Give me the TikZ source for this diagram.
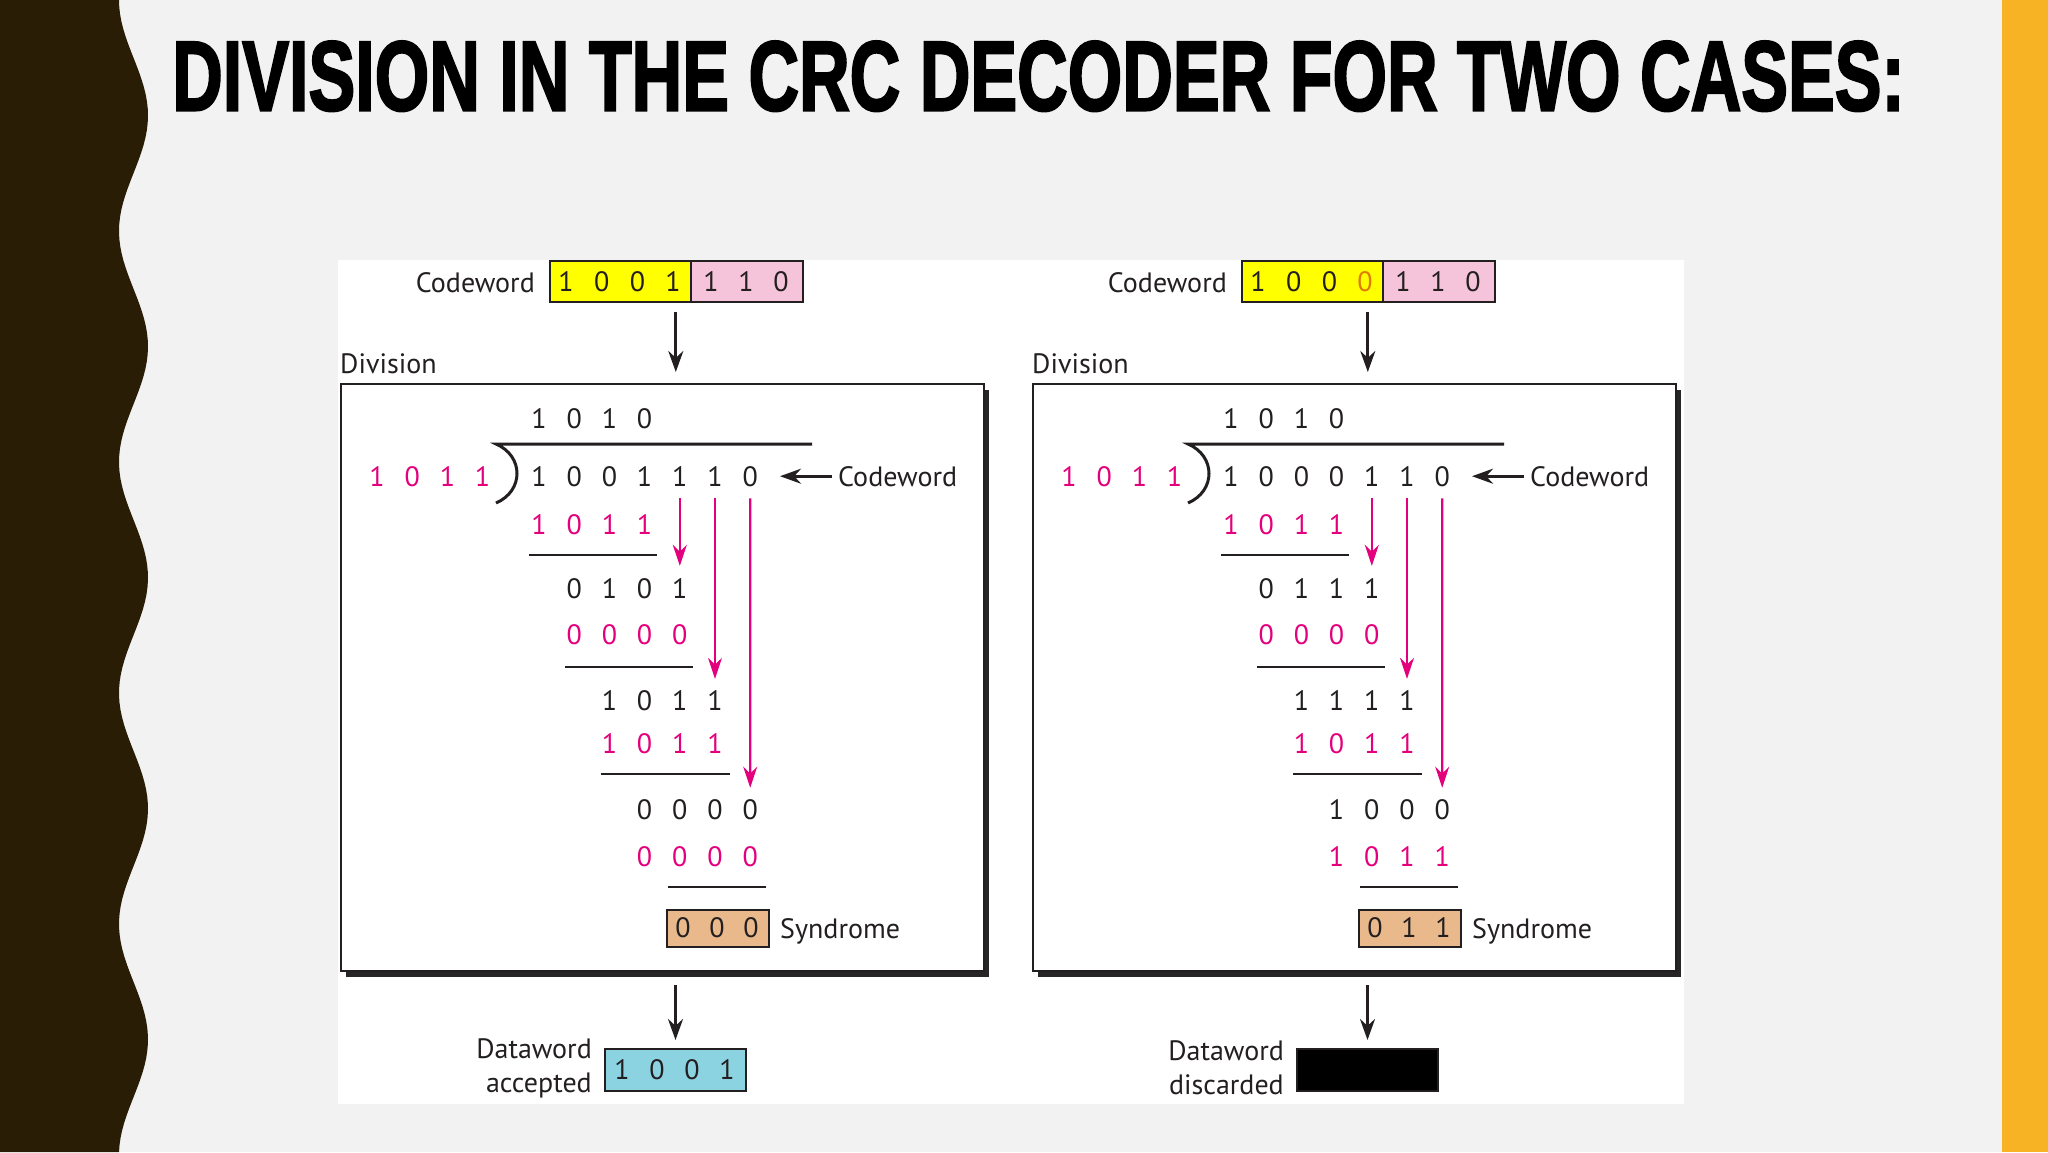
\documentclass[tikz,border=0pt]{standalone}
\usepackage{fontspec}
\usepackage{graphicx}
\setmainfont{PT Sans}
\newfontfamily\titlefont{Liberation Sans}[BoldFeatures={FakeBold=2.5}]
\usetikzlibrary{arrows.meta,shadows}

\definecolor{slidebg}{RGB}{242,242,242}
\definecolor{stripdark}{RGB}{42,29,6}
\definecolor{stripgold}{RGB}{248,179,37}
\definecolor{inkgray}{RGB}{35,31,32}
\definecolor{crcpink}{RGB}{228,0,124}
\definecolor{boxyellow}{RGB}{255,255,0}
\definecolor{boxpink}{RGB}{246,196,218}
\definecolor{errorange}{RGB}{224,122,0}
\definecolor{syntan}{RGB}{233,185,140}
\definecolor{dwblue}{RGB}{140,211,226}

% one row of bits: name, first x, step, y, style, bits
\newcommand{\bitrow}[6]{%
  \foreach \b [count=\i from 0] in {#6}
    \node[#5] (#1\i) at ({#2+#3*\i},#4) {\b};}

% the part that both decoders share
\newcommand{\crcpanel}[7]{%
  % codeword on top
  \node[lbl, anchor=base east] (cwtxt) at (535,292) {Codeword};
  \node[bitbox, fill=boxyellow, minimum width=141pt] (cwy) at (620.5,281.5) {};
  \node[bitbox, fill=boxpink, minimum width=112pt] (cwp) at (747,281.5) {};
  \bitrow{cy}{566}{35.7}{282}{dig}{#1}
  \bitrow{cp}{711}{35}{282}{dig}{1,1,0}
  % division box
  \node[lbl, anchor=base west] (divtxt) at (340,373) {Division};
  \node[frame, minimum width=643pt, minimum height=587pt, anchor=north west] (frame) at (340,383) {};
  \bitrow{q}{539}{35.2}{419}{dig}{1,0,1,0}
  \bitrow{dr}{377}{35.2}{477}{pinkdig}{1,0,1,1}
  \bitrow{dv}{539}{35.2}{477}{dig}{#2}
  \draw[divline] (812,444) -- (496,444) .. controls (524,456) and (524,491) .. (496,503);
  \node[lbl, anchor=base west] (cwtxt2) at (838,486) {Codeword};
  \draw[blkarrow, shorten <=6pt, shorten >=22pt] (cwtxt2.west) -- (cwtxt2.west -| dv6.east);
  \draw[blkarrow, shorten <=9pt, shorten >=11pt] ([xshift=-4pt]cwy.south -| dv4) -- ([xshift=-4pt]frame.north -| dv4);
  % steps
  \bitrow{sa}{539}{35.2}{525}{pinkdig}{1,0,1,1}
  \draw[rule] (529,555) -- (657,555);
  \bitrow{ra}{574.2}{35.2}{589}{dig}{#3}
  \bitrow{sb}{574.2}{35.2}{635}{pinkdig}{0,0,0,0}
  \draw[rule] (565,667) -- (693,667);
  \bitrow{rb}{609.4}{35.2}{701}{dig}{#4}
  \bitrow{sc}{609.4}{35.2}{744}{pinkdig}{1,0,1,1}
  \draw[rule] (601,774) -- (730,774);
  \bitrow{rc}{644.6}{35.2}{810}{dig}{#5}
  \bitrow{sd}{644.6}{35.2}{857}{pinkdig}{#6}
  \draw[rule] (668,887) -- (766,887);
  \draw[pinkarrow, shorten <=11pt, shorten >=13pt] (dv4.south) -- (ra3.north);
  \draw[pinkarrow, shorten <=11pt, shorten >=12pt] (dv5.south) -- (rb3.north);
  \draw[pinkarrow, shorten <=11pt, shorten >=12pt] (dv6.south) -- (rc3.north);
  % syndrome
  \node[bitbox, fill=syntan, minimum width=102pt, minimum height=37pt] (syn) at (718,928.5) {};
  \bitrow{sy}{683}{34}{928}{dig}{#7}
  \node[lbl, anchor=base west] (syntxt) at (780,938) {Syndrome};
}

\tikzset{
  dig/.style={inner sep=0pt, font=\fontsize{28}{30}\selectfont, text=inkgray},
  pinkdig/.style={dig, text=crcpink},
  lbl/.style={inner sep=0pt, font=\fontsize{28}{34}\selectfont, text=inkgray},
  rule/.style={line width=2pt, draw=inkgray},
  divline/.style={line width=3pt, draw=inkgray},
  bitbox/.style={draw=inkgray, line width=2pt, minimum height=41pt, inner sep=0pt},
  frame/.style={draw=inkgray, line width=2.4pt, fill=white,
    drop shadow={shadow xshift=5pt, shadow yshift=-6pt, fill=black!85, opacity=1}},
  blkarrow/.style={line width=2.8pt, draw=inkgray, -{Stealth[length=21pt,width=15pt]}},
  pinkarrow/.style={line width=2.2pt, draw=crcpink, -{Stealth[length=21pt,width=14pt]}},
}

\begin{document}
\begin{tikzpicture}[x=1pt, y=-1pt]
	\useasboundingbox (0,0) rectangle (2048,1152);
	\fill[slidebg] (0,0) rectangle (2048,1152);
	\fill[stripdark] (0,0) -- plot[domain=0:1152, samples=160] ({133.5-14.5*cos(\x/231*360)}, \x) -- (0,1152) -- cycle;
	\fill[stripgold] (2002,0) rectangle (2048,1152);
	\node[anchor=north west, inner sep=0pt] (title) at (172,41)
		{\resizebox{1732pt}{69pt}{\titlefont\bfseries DIVISION IN THE CRC DECODER FOR TWO CASES:}};
	\fill[white] (338,260) rectangle (1684,1104);

	% no error: dataword accepted
	\begin{scope}[name prefix=L-]
		\crcpanel{1,0,0,1}{1,0,0,1,1,1,0}{0,1,0,1}{1,0,1,1}{0,0,0,0}{0,0,0,0}{0,0,0}
		\node[bitbox, fill=dwblue, minimum width=141pt, minimum height=42pt] (dw) at (675.5,1070) {};
		\bitrow{dwb}{622}{35}{1070}{dig}{1,0,0,1}
		\node[lbl, anchor=east, align=right] (dwtxt) at (592,1068) {Dataword\\accepted};
		\draw[blkarrow, shorten <=13pt, shorten >=8pt] (frame.south -| dw) -- (dw.north);
	\end{scope}

	% one bit in error: dataword discarded
	\begin{scope}[xshift=692pt, name prefix=R-]
		\crcpanel{1,0,0,\textcolor{errorange}{0}}{1,0,0,0,1,1,0}{0,1,1,1}{1,1,1,1}{1,0,0,0}{1,0,1,1}{0,1,1}
		\node[bitbox, fill=black, minimum width=141pt, minimum height=42pt] (dw) at (675.5,1070) {};
		\node[lbl, anchor=east, align=right] (dwtxt) at (592,1068) {Dataword\\discarded};
		\draw[blkarrow, shorten <=13pt, shorten >=8pt] (frame.south -| dw) -- (dw.north);
	\end{scope}
\end{tikzpicture}
\end{document}
